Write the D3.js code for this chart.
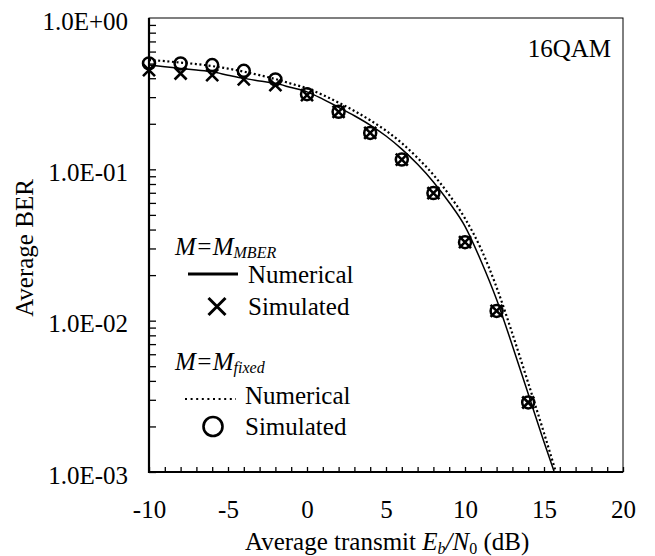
<!DOCTYPE html>
<html>
<head>
<meta charset="utf-8">
<script src="https://cdn.jsdelivr.net/npm/d3@7"></script>
<style>
  body { margin: 0; background: #fff; }
</style>
</head>
<body>
<div id="chart"></div>
<script>
// numerical curves (BER vs Eb/N0 in dB)
const snrMber = [-10, -9, -8, -7, -6, -5, -4, -3, -2, -1, 0, 1, 2, 3, 4, 5, 6, 7, 8, 9, 10, 11, 12, 13, 14, 15, 15.65];
const berMberNum = [0.489, 0.477, 0.464, 0.453, 0.441, 0.419, 0.399, 0.384, 0.370, 0.347, 0.325, 0.291, 0.257, 0.226, 0.196, 0.166, 0.136, 0.108, 0.0826, 0.0604, 0.0420, 0.0250, 0.0138, 0.00683, 0.00329, 0.00158, 0.001];
const snrFixed = [-10, -9, -8, -7, -6, -5, -4, -3, -2, -1, 0, 1, 2, 3, 4, 5, 6, 7, 8, 9, 10, 11, 12, 13, 14, 15, 15.75];
const berFixedNum = [0.527, 0.519, 0.507, 0.496, 0.481, 0.463, 0.442, 0.419, 0.395, 0.368, 0.343, 0.310, 0.276, 0.243, 0.211, 0.180, 0.149, 0.119, 0.0920, 0.0678, 0.0474, 0.0300, 0.0166, 0.00820, 0.00388, 0.00181, 0.001];

// simulated points
const snrSim = [-10, -8, -6, -4, -2, 0, 2, 4, 6, 8, 10, 12, 14];
const berMberSim = [0.452, 0.43, 0.419, 0.393, 0.36, 0.309, 0.24, 0.174, 0.116, 0.0697, 0.033, 0.0116, 0.00288];
const berFixedSim = [0.501, 0.501, 0.489, 0.448, 0.393, 0.314, 0.24, 0.174, 0.116, 0.0697, 0.033, 0.0116, 0.00288];

// ticks
const xTicks = [-10, -5, 0, 5, 10, 15, 20];
const yTicks = [1e-3, 1e-2, 1e-1, 1];
const yTickLabels = ["1.0E-03", "1.0E-02", "1.0E-01", "1.0E+00"];

const FONT = "Liberation Serif";

var width = 655, height = 556;
var margin = { left: 149, right: 32, top: 18, bottom: 84 };

var svg = d3.select("#chart")
    .append("svg")
    .attr("width", width)
    .attr("height", height)
    .attr("font-family", FONT);

var xScale = d3.scaleLinear().domain([-10, 20]).range([margin.left, width - margin.right]);
var yScale = d3.scaleLog().domain([1e-3, 1]).range([height - margin.bottom, margin.top]);

var x0 = xScale.range()[0], x1 = xScale.range()[1];
var yb = yScale.range()[0], yt = yScale.range()[1];

svg.append("clipPath").attr("id", "plot")
    .append("rect")
    .attr("x", x0).attr("y", yt)
    .attr("width", x1 - x0).attr("height", yb - yt);

// frame (thin top/right)
svg.append("rect")
    .attr("x", x0).attr("y", yt)
    .attr("width", x1 - x0).attr("height", yb - yt)
    .attr("fill", "none")
    .attr("stroke", "#000")
    .attr("stroke-width", 1);

/* MINOR TICKS (inside) */
var xMinor = d3.range(-10, 21, 1);
svg.append("g")
    .attr("transform", `translate(0,${yb})`)
    .call(d3.axisBottom(xScale).tickValues(xMinor).tickSize(-5).tickFormat(""))
    .call(g => g.select(".domain").remove())
    .selectAll("line").attr("stroke-width", 1.3);

var yMinor = [];
[1e-3, 1e-2, 1e-1].forEach(function (dec) {
    for (var k = 1; k < 10; k++) yMinor.push(dec * k);
});
svg.append("g")
    .attr("transform", `translate(${x0},0)`)
    .call(d3.axisLeft(yScale).tickValues(yMinor).tickSize(-7).tickFormat(""))
    .call(g => g.select(".domain").remove())
    .selectAll("line").attr("stroke-width", 1.3);

/* TICK LABELS */
svg.append("g")
    .attr("transform", `translate(0,${yb})`)
    .call(d3.axisBottom(xScale).tickValues(xTicks).tickSize(0).tickPadding(28)
        .tickFormat(function (d) { return String(d); }))
    .attr("font-family", FONT)
    .call(g => g.select(".domain").remove())
    .selectAll("text")
    .style("font-family", FONT)
    .style("font-size", "25px")
    .attr("fill", "#000");

svg.append("g")
    .attr("transform", `translate(${x0},0)`)
    .call(d3.axisLeft(yScale).tickValues(yTicks).tickSize(0).tickPadding(21)
        .tickFormat(function (d, i) { return yTickLabels[i]; }))
    .attr("font-family", FONT)
    .call(g => g.select(".domain").remove())
    .selectAll("text")
    .attr("dy", "0.45em")
    .style("font-family", FONT)
    .style("font-size", "25px")
    .attr("fill", "#000");

// thick left and bottom axis lines
svg.append("line").attr("x1", x0).attr("x2", x0).attr("y1", yt).attr("y2", yb + 1)
    .attr("stroke", "#000").attr("stroke-width", 2.2);
svg.append("line").attr("x1", x0 - 1).attr("x2", x1).attr("y1", yb).attr("y2", yb)
    .attr("stroke", "#000").attr("stroke-width", 2.2);

/* CURVES */
var line = d3.line()
    .x(function (d) { return xScale(d[0]); })
    .y(function (d) { return yScale(d[1]); })
    .curve(d3.curveMonotoneX);

var curves = svg.append("g").attr("clip-path", "url(#plot)");

curves.append("path")
    .datum(d3.zip(snrMber, berMberNum))
    .attr("d", line)
    .attr("fill", "none")
    .attr("stroke", "#000")
    .attr("stroke-width", 1.5);

curves.append("path")
    .datum(d3.zip(snrFixed, berFixedNum))
    .attr("d", line)
    .attr("fill", "none")
    .attr("stroke", "#000")
    .attr("stroke-width", 2.2)
    .attr("stroke-dasharray", "2,2.6");

/* MARKERS */
function xMark(cx, cy, s) {
    return `M${cx - s},${cy - s}L${cx + s},${cy + s}M${cx - s},${cy + s}L${cx + s},${cy - s}`;
}

svg.append("g")
    .selectAll("path")
    .data(d3.zip(snrSim, berMberSim))
    .join("path")
    .attr("d", function (d) { return xMark(xScale(d[0]), yScale(d[1]), 6); })
    .attr("stroke", "#000")
    .attr("stroke-width", 2.6)
    .attr("fill", "none");

svg.append("g")
    .selectAll("circle")
    .data(d3.zip(snrSim, berFixedSim))
    .join("circle")
    .attr("cx", function (d) { return xScale(d[0]); })
    .attr("cy", function (d) { return yScale(d[1]); })
    .attr("r", 6)
    .attr("fill", "none")
    .attr("stroke", "#000")
    .attr("stroke-width", 2.5);

/* LABELS */
function label(sel) {
    return sel.style("font-family", FONT).style("font-size", "25px").attr("fill", "#000");
}

label(svg.append("text"))
    .attr("x", 611).attr("y", 57)
    .attr("text-anchor", "end")
    .text("16QAM");

label(svg.append("text"))
    .attr("transform", "translate(33,248) rotate(-90)")
    .attr("text-anchor", "middle")
    .text("Average BER");

var xt = label(svg.append("text"))
    .attr("x", 245).attr("y", 550);
xt.append("tspan").text("Average transmit ");
xt.append("tspan").style("font-style", "italic").text("E");
xt.append("tspan").style("font-style", "italic").style("font-size", "16px").attr("dy", 4).text("b");
xt.append("tspan").style("font-style", "italic").attr("dy", -4).text("/N");
xt.append("tspan").style("font-size", "16px").attr("dy", 4).text("0");
xt.append("tspan").attr("dy", -4).text(" (dB)");

/* LEGEND */
var legend = svg.append("g");

function header(y, sub) {
    var t = label(legend.append("text")).attr("x", 175).attr("y", y)
        .style("font-style", "italic");
    t.append("tspan").text("M=M");
    t.append("tspan").style("font-size", "16px").attr("dy", 3).text(sub);
}

header(255, "MBER");
legend.append("line").attr("x1", 188).attr("x2", 238).attr("y1", 274).attr("y2", 274)
    .attr("stroke", "#000").attr("stroke-width", 2.8);
label(legend.append("text")).attr("x", 248).attr("y", 283).text("Numerical");
legend.append("path").attr("d", xMark(217, 306.5, 8.5))
    .attr("stroke", "#000").attr("stroke-width", 3).attr("fill", "none");
label(legend.append("text")).attr("x", 248).attr("y", 315).text("Simulated");

header(370, "fixed");
legend.append("line").attr("x1", 185).attr("x2", 236).attr("y1", 399).attr("y2", 399)
    .attr("stroke", "#000").attr("stroke-width", 2).attr("stroke-dasharray", "2,3.6");
label(legend.append("text")).attr("x", 245).attr("y", 404).text("Numerical");
legend.append("circle").attr("cx", 213).attr("cy", 426.5).attr("r", 9.5)
    .attr("fill", "none").attr("stroke", "#000").attr("stroke-width", 2.6);
label(legend.append("text")).attr("x", 245).attr("y", 435).text("Simulated");
</script>
</body>
</html>
